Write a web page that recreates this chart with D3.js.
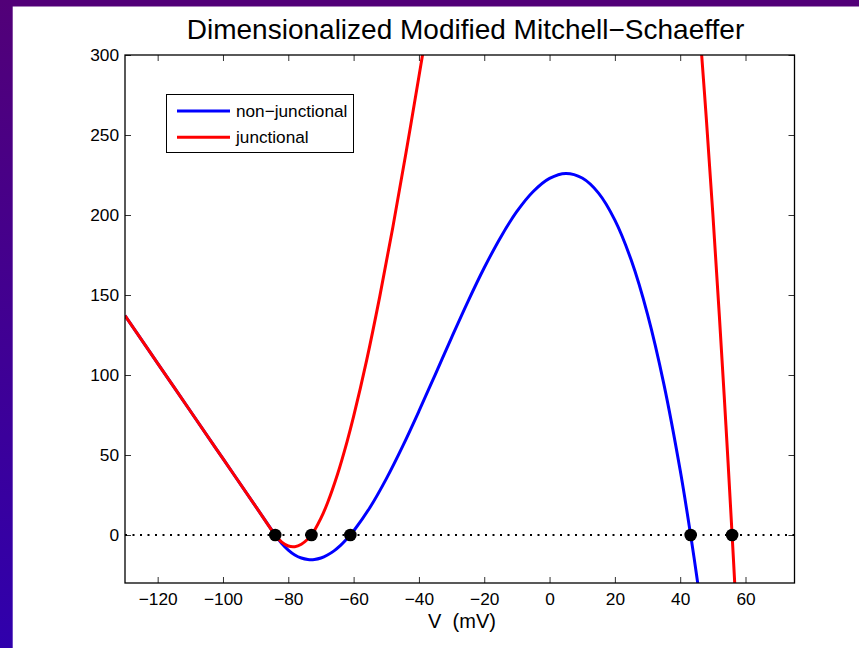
<!DOCTYPE html>
<html>
<head>
<meta charset="utf-8">
<script src="https://cdn.jsdelivr.net/npm/d3@7/dist/d3.min.js"></script>
<style>
  html, body { margin: 0; padding: 0; background: #fff; }
  svg { display: block; }
  text { font-family: "Liberation Sans", Arial, Helvetica, sans-serif; fill: #000; }
</style>
</head>
<body>
<svg id="chart" width="859" height="648"></svg>
<script>
// ---- data ----
const blueV = [-130,-120,-110,-100,-90,-84,-82,-80,-78,-76,-74,-72,-70,-68,-66,-64,-62,-61,-60,-55,-50,-45,-40,-35,-30,-25,-20,-15,-10,-5,0,5,10,15,20,25,30,35,40,43.2,45,47];
const blueY = [137.1,107.3,77.5,47.7,17.9,0,-5.3,-9.4,-12.5,-14.4,-15.3,-15.3,-14.4,-12.5,-9.9,-6.5,-2.3,0,2.5,17.2,35.1,55.4,77.4,100.3,123.4,145.9,167.0,186.0,202.2,214.7,222.9,226.0,223.1,213.7,196.8,171.8,137.9,94.3,40.4,0,-24.8,-54.1];
const redV = [-130,-120,-110,-100,-90,-84,-82,-80,-78,-76,-74,-72.9,-72,-70,-68,-65,-62,-60,-56,-52,-48,-44,-40,-37];
const redY = [137.1,107.3,77.5,47.7,17.9,0,-4.5,-6.9,-7.3,-5.8,-2.5,0,2.85,10.5,20.0,37.5,58.4,74.1,109.3,149.0,192.2,238.4,286.5,323.5];
const redV2 = [44,45,46,48,50,52,54,55.9,57];
const redY2 = [367.5,342.2,315.8,260.2,200.6,136.7,68.7,0,-41.6];
const fixedV = [-84,-72.9,-61,43.2,55.9];
const fixedY = [0,0,0,0,0];
const xTicks = [-120,-100,-80,-60,-40,-20,0,20,40,60];
const yTicks = [0,50,100,150,200,250,300];
const seriesNames = ["non\u2212junctional","junctional"];
const seriesColors = ["#0000ff","#ff0000"];
const titleText = "Dimensionalized Modified Mitchell\u2212Schaeffer";
const xLabelText = "V  (mV)";

// ---- layout ----
const svg = d3.select("#chart");
const L = 125, R = 794.5, T = 55, B = 583;
const x = d3.scaleLinear().domain([-130, 75]).range([L, R]);
const y = d3.scaleLinear().domain([-30, 300]).range([B, T]);

// background frame
const defs = svg.append("defs");
const grad = defs.append("linearGradient").attr("id","sideGrad").attr("x1",0).attr("y1",0).attr("x2",0).attr("y2",1);
grad.append("stop").attr("offset","0%").attr("stop-color","#520078");
grad.append("stop").attr("offset","100%").attr("stop-color","#3000ac");
svg.append("rect").attr("x",0).attr("y",0).attr("width",859).attr("height",648).attr("fill","#fff");
svg.append("rect").attr("x",0).attr("y",0).attr("width",859).attr("height",6.5).attr("fill","#520078");
svg.append("rect").attr("x",0).attr("y",0).attr("width",12.7).attr("height",648).attr("fill","url(#sideGrad)");

defs.append("clipPath").attr("id","plotClip").append("rect")
  .attr("x",L).attr("y",T).attr("width",R-L).attr("height",B-T);

const fmt = d => d < 0 ? "\u2212" + Math.abs(d) : String(d);

// axes (inward ticks on all four sides)
const axB = svg.append("g").attr("transform",`translate(0,${B})`)
  .call(d3.axisBottom(x).tickValues(xTicks).tickFormat(fmt).tickSizeInner(-6).tickSizeOuter(0).tickPadding(10));
const axT = svg.append("g").attr("transform",`translate(0,${T})`)
  .call(d3.axisTop(x).tickValues(xTicks).tickFormat("").tickSizeInner(-6).tickSizeOuter(0));
const axL = svg.append("g").attr("transform",`translate(${L},0)`)
  .call(d3.axisLeft(y).tickValues(yTicks).tickFormat(fmt).tickSizeInner(-6).tickSizeOuter(0).tickPadding(6));
const axR = svg.append("g").attr("transform",`translate(${R},0)`)
  .call(d3.axisRight(y).tickValues(yTicks).tickFormat("").tickSizeInner(-6).tickSizeOuter(0));
[axB, axT, axL, axR].forEach(g => {
  g.select(".domain").remove();
  g.selectAll(".tick line").attr("stroke","#333").attr("stroke-width",1);
  g.selectAll(".tick text").attr("font-size",17.3).attr("font-family","Liberation Sans, Arial, sans-serif").attr("fill","#000");
});

// zero dotted line
const plot = svg.append("g").attr("clip-path","url(#plotClip)");
plot.append("line").attr("x1",x(-130)).attr("x2",x(75)).attr("y1",y(0)).attr("y2",y(0))
  .attr("stroke","#000").attr("stroke-width",2).attr("stroke-dasharray","2,5.5");

const line = d3.line().x(d => x(d[0])).y(d => y(d[1])).curve(d3.curveCatmullRom.alpha(0.5));
plot.append("path").attr("d", line(d3.zip(blueV, blueY)))
  .attr("fill","none").attr("stroke",seriesColors[0]).attr("stroke-width",3).attr("stroke-linejoin","round");
plot.append("path").attr("d", line(d3.zip(redV, redY)))
  .attr("fill","none").attr("stroke",seriesColors[1]).attr("stroke-width",3).attr("stroke-linejoin","round");
plot.append("path").attr("d", line(d3.zip(redV2, redY2)))
  .attr("fill","none").attr("stroke",seriesColors[1]).attr("stroke-width",3).attr("stroke-linejoin","round");

// fixed points
plot.selectAll("circle.fp").data(d3.zip(fixedV, fixedY)).join("circle")
  .attr("class","fp").attr("cx",d => x(d[0])).attr("cy",d => y(d[1])).attr("r",6.3).attr("fill","#000");

// axes box
svg.append("rect").attr("x",L).attr("y",T).attr("width",R-L).attr("height",B-T)
  .attr("fill","none").attr("stroke","#000").attr("stroke-width",1.3);

// legend
const lg = svg.append("g");
lg.append("rect").attr("x",166.5).attr("y",94.5).attr("width",187).attr("height",58)
  .attr("fill","#fff").attr("stroke","#000").attr("stroke-width",1);
seriesNames.forEach((n,i) => {
  const yy = 111 + i*26.3;
  lg.append("line").attr("x1",177).attr("x2",230).attr("y1",yy).attr("y2",yy)
    .attr("stroke",seriesColors[i]).attr("stroke-width",3);
  lg.append("text").attr("x",236).attr("y",yy).attr("dy","0.35em").attr("font-size",17.2).text(n);
});

// title and label
svg.append("text").attr("x",465.5).attr("y",39).attr("text-anchor","middle").attr("font-size",28).text(titleText);
svg.append("text").attr("x",462).attr("y",628).attr("text-anchor","middle").attr("font-size",20)
  .style("white-space","pre").text(xLabelText);
</script>
</body>
</html>
